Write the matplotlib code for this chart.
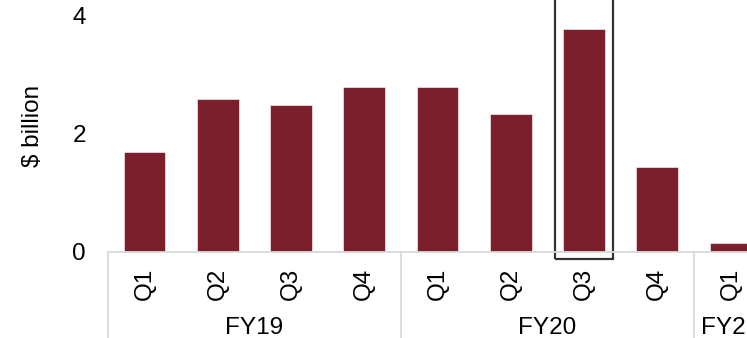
import matplotlib.pyplot as plt
from matplotlib.patches import Rectangle
import matplotlib.transforms as mtransforms

plt.rcParams['font.family'] = ['Liberation Sans', 'DejaVu Sans']

quarters = ['Q1', 'Q2', 'Q3', 'Q4', 'Q1', 'Q2', 'Q3', 'Q4', 'Q1']
years = ['FY19', 'FY20', 'FY21']
year_sizes = [4, 4, 1]
values = [1.69, 2.59, 2.49, 2.80, 2.80, 2.34, 3.78, 1.44, 0.15]
highlight = 6  # FY20 Q3

bar_color = '#7b1f2c'
grid_grey = '#d9d9d9'
fs = 17.5

fig = plt.figure(figsize=(7.47, 3.38), dpi=100)
# axes runs a bit past the right edge, the source image was cropped
ax = fig.add_axes([108 / 747, 86 / 338, 659 / 747, 252 / 338])

x = list(range(len(values)))
ax.bar(x, values, width=0.57, color=bar_color, edgecolor='white', linewidth=0.4)

ax.set_xlim(-0.5, len(values) - 0.5)
ax.set_ylim(0, 4.27)
ax.set_yticks([0, 2, 4])
ax.tick_params(axis='y', length=0, labelsize=fs, pad=16)
ax.set_ylabel('$ billion', fontsize=fs, labelpad=20)

ax.set_xticks(x)
ax.set_xticklabels(quarters, rotation=90, fontsize=fs)
ax.tick_params(axis='x', length=0, pad=11)

for s in ['top', 'right', 'left']:
    ax.spines[s].set_visible(False)
ax.spines['bottom'].set_color(grid_grey)
ax.spines['bottom'].set_linewidth(1.3)

# group separators and year labels below the axis
trans = mtransforms.blended_transform_factory(ax.transData, ax.transAxes)
start = 0
for yr, n in zip(years, year_sizes):
    ax.plot([start - 0.5, start - 0.5], [0, -86 / 252], transform=trans,
            color=grid_grey, lw=1.3, clip_on=False)
    ax.text(start - 0.5 + n / 2, -76 / 252, yr, transform=trans,
            ha='center', va='center', fontsize=fs)
    start += n

# box round the highlighted bar
ax.add_patch(Rectangle((highlight - 0.39, -0.12), 0.78, 5.0, fill=False,
                       edgecolor='#333333', lw=1.6, clip_on=False))

fig.savefig('out.png', dpi=100)
